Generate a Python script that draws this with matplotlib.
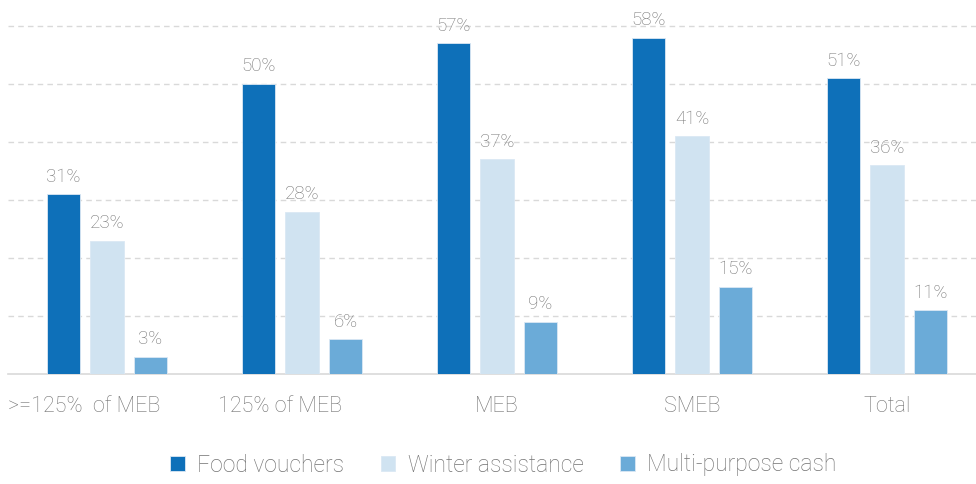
import numpy as np
import matplotlib
matplotlib.use("Agg")
import matplotlib.pyplot as plt
from matplotlib.transforms import ScaledTranslation

# categories and series (percent of households)
categories = [">=125%  of MEB", "125% of MEB", "MEB", "SMEB", "Total"]
food_vouchers = [31, 50, 57, 58, 51]
winter_assistance = [23, 28, 37, 41, 36]
multi_purpose_cash = [3, 6, 9, 15, 11]

series_names = ["Food vouchers", "Winter assistance", "Multi-purpose cash"]
colors = ["#0e70b9", "#d0e3f1", "#6babd8"]
text_gray = "#737373"

plt.rcParams['font.family'] = ['Roboto', 'DejaVu Sans']

fig = plt.figure(figsize=(9.76, 4.84), dpi=100)
ax = fig.add_axes([8 / 976, 110 / 484, 968 / 976, 374 / 484])

x = np.arange(len(categories))
width = 0.174
step = 0.223
for i, (vals, name, col) in enumerate(zip([food_vouchers, winter_assistance, multi_purpose_cash],
                                          series_names, colors)):
    pos = x + (i - 1) * step
    ax.bar(pos, vals, width, color=col, label=name, zorder=3,
           edgecolor="#dbe8f4", linewidth=0.6)
    for xb, v in zip(pos, vals):
        ax.text(xb, v + 1.5, f"{v}%", ha="center", va="bottom", fontsize=13.5,
                color=text_gray, fontweight="light", zorder=4)

ax.set_xlim(-0.5 - 1.5 / 195, -0.5 - 1.5 / 195 + 968 / 195)
ax.set_ylim(0, 64.5)
ax.set_yticks(np.arange(10, 61, 10))
ax.yaxis.grid(True, linestyle=(0, (4, 3)), color="#d9d9d9", linewidth=1, zorder=0)
ax.tick_params(axis="y", left=False, labelleft=False)
ax.tick_params(axis="x", bottom=False, pad=12)
ax.set_xticks(x)
ax.set_xticklabels(categories, fontsize=15.5, color=text_gray, fontweight="light")

# the first two labels sit a little left of their groups
for lbl, dx in zip(ax.get_xticklabels()[:2], [-23, -22]):
    lbl.set_transform(lbl.get_transform() + ScaledTranslation(dx / 100, 0, fig.dpi_scale_trans))

for s in ["top", "right", "left"]:
    ax.spines[s].set_visible(False)
ax.spines["bottom"].set_color("#d9d9d9")
ax.spines["bottom"].set_linewidth(1.2)

leg = fig.legend(loc="center", bbox_to_anchor=(503.5 / 976, 1 - 465 / 484), ncol=3, frameon=False,
                 fontsize=16.5, handlelength=0.62, handleheight=0.62, handletextpad=0.55,
                 columnspacing=1.6)
for t in leg.get_texts():
    t.set_color(text_gray)
    t.set_fontweight("light")

fig.savefig("out.png", dpi=100)
